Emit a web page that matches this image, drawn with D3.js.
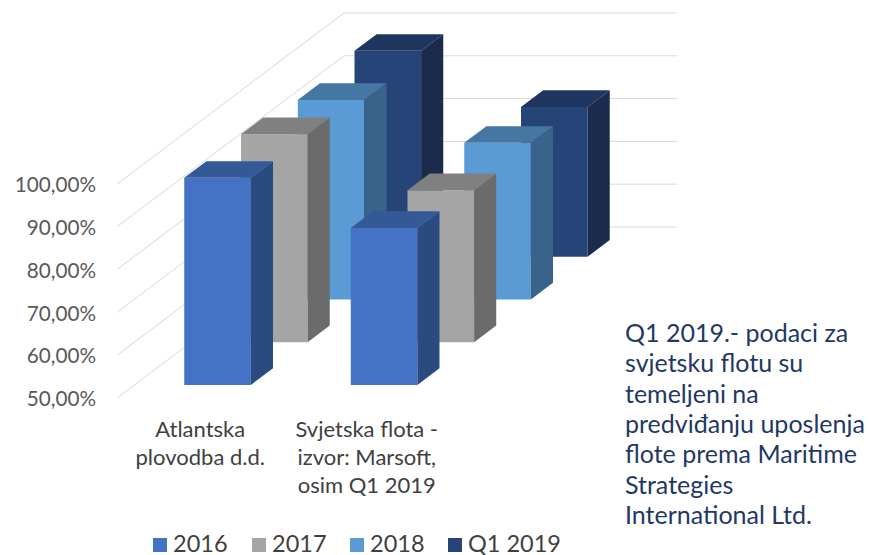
<!DOCTYPE html>
<html>
<head>
<meta charset="utf-8">
<script src="https://cdn.jsdelivr.net/npm/d3@7"></script>
<style>
  body { margin: 0; background: #fff; }
  text { font-family: Lato, "Open Sans", sans-serif; }
</style>
</head>
<body>
<div id="app"></div>
<script>
// data
const categories = ["Atlantska plovodba d.d.", "Svjetska flota - izvor: Marsoft, osim Q1 2019"];
const categoryLines = [["Atlantska", "plovodba d.d."], ["Svjetska flota -", "izvor: Marsoft,", "osim Q1 2019"]];
const series = ["2016", "2017", "2018", "Q1 2019"];
const valuesAtlantska = [0.984, 0.986, 0.966, 0.981];
const valuesSvjetska = [0.867, 0.855, 0.866, 0.850];
const yTicks = [0.5, 0.6, 0.7, 0.8, 0.9, 1.0];
const noteLines = ["Q1 2019.- podaci za", "svjetsku flotu su", "temeljeni na", "predviđanju uposlenja", "flote prema Maritime", "Strategies", "International Ltd."];

const colors = {
	"2016":    { front: "#4472C4", side: "#2B4A80", top: "#335A97" },
	"2017":    { front: "#A5A5A5", side: "#6B6B6B", top: "#808080" },
	"2018":    { front: "#5B9BD5", side: "#39638A", top: "#4677A2" },
	"Q1 2019": { front: "#264478", side: "#1A2B4B", top: "#1E365F" }
};

let width = 869, height = 555;

let svg = d3.select("#app").append("svg")
	.attr("width", width)
	.attr("height", height);

// plot box (front plane) and depth
let left = 117, right = 450;
let depth = 227;          // horizontal run of the full depth
let slope = 171 / 227;    // rise per px of depth

let x = d3.scaleBand()
	.domain(categories)
	.range([left, right])
	.paddingInner(0.6)
	.paddingOuter(0.3);

let z = d3.scaleBand()
	.domain(series)
	.range([0, depth])
	.paddingInner(0.61)
	.paddingOuter(0.305);

let y = d3.scaleLinear()
	.domain([0.5, 1])
	.range([398, 184]);

// oblique projection
function P(px, py, d) {
	return [px + d, py - d * slope];
}

let line = d3.line();

// gridlines: side wall and back wall
let grid = svg.append("g");
yTicks.forEach(function(t) {
	grid.append("path")
		.attr("d", line([P(left, y(t), 0), P(left, y(t), depth), P(right, y(t), depth)]))
		.attr("fill", "none")
		.attr("stroke", "#d9d9d9")
		.attr("stroke-width", 1);
});

// y labels
svg.append("g").selectAll("text")
	.data(yTicks)
	.enter()
	.append("text")
		.attr("x", 96)
		.attr("y", function(d) { return y(d) + 1; })
		.attr("dy", "0.35em")
		.attr("text-anchor", "end")
		.attr("fill", "#595959")
		.style("font-size", "20.7px")
		.text(function(d) { return d3.format(".2f")(d * 100).replace(".", ",") + "%"; });

// bars, back row first
let bars = [];
series.forEach(function(s, i) {
	bars.push({ cat: categories[0], s: s, value: valuesAtlantska[i] });
	bars.push({ cat: categories[1], s: s, value: valuesSvjetska[i] });
});
bars.sort(function(a, b) { return series.indexOf(b.s) - series.indexOf(a.s); });

let barG = svg.append("g");
bars.forEach(function(b) {
	let x0 = x(b.cat), x1 = x0 + x.bandwidth();
	let d0 = z(b.s), d1 = d0 + z.bandwidth();
	let yb = y(0.5), yt = y(b.value);
	let c = colors[b.s];

	// front
	barG.append("path")
		.attr("d", line([P(x0, yb, d0), P(x1, yb, d0), P(x1, yt, d0), P(x0, yt, d0)]) + "Z")
		.attr("fill", c.front);
	// right side
	barG.append("path")
		.attr("d", line([P(x1, yb, d0), P(x1, yb, d1), P(x1, yt, d1), P(x1, yt, d0)]) + "Z")
		.attr("fill", c.side);
	// top
	barG.append("path")
		.attr("d", line([P(x0, yt, d0), P(x1, yt, d0), P(x1, yt, d1), P(x0, yt, d1)]) + "Z")
		.attr("fill", c.top);
});

// category labels
categories.forEach(function(cat, i) {
	let t = svg.append("text")
		.attr("x", x(cat) + x.bandwidth() / 2)
		.attr("y", 437)
		.attr("text-anchor", "middle")
		.attr("fill", "#404040")
		.style("font-size", "22px");
	categoryLines[i].forEach(function(l, j) {
		t.append("tspan")
			.attr("x", x(cat) + x.bandwidth() / 2)
			.attr("y", 437 + j * 28)
			.text(l);
	});
});

// legend
let legendX = [153, 252, 350, 448];
let legend = svg.append("g");
series.forEach(function(s, i) {
	legend.append("rect")
		.attr("x", legendX[i])
		.attr("y", 538)
		.attr("width", 14)
		.attr("height", 14)
		.attr("fill", colors[s].front);
	legend.append("text")
		.attr("x", legendX[i] + 20)
		.attr("y", 552)
		.attr("fill", "#404040")
		.style("font-size", "23.5px")
		.text(s);
});

// note on the right
let note = svg.append("text")
	.attr("x", 625)
	.attr("y", 342)
	.attr("fill", "#1F3864")
	.style("font-size", "25px");
noteLines.forEach(function(l, j) {
	note.append("tspan")
		.attr("x", 625)
		.attr("y", 342 + j * 30.3)
		.text(l);
});
</script>
</body>
</html>
